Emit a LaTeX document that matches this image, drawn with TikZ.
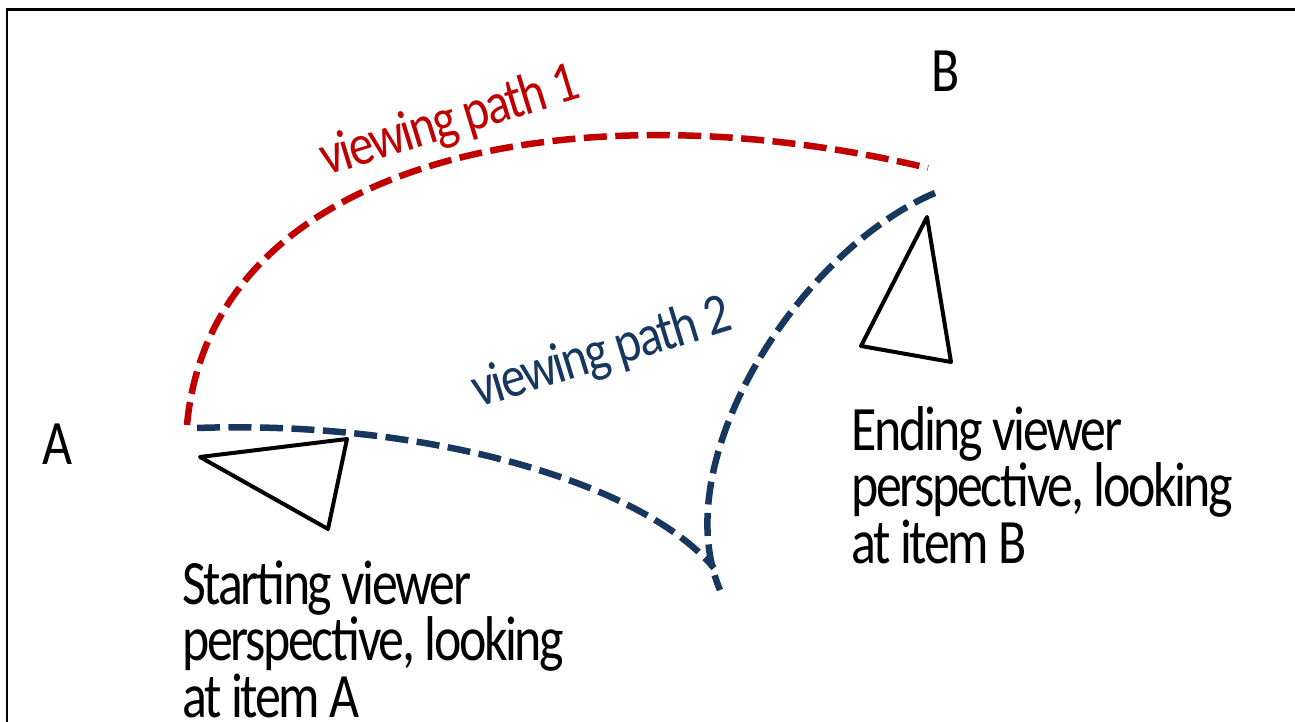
\documentclass[tikz,border=0pt]{standalone}
\usepackage{fontspec}
\setmainfont{Carlito}
\newfontfamily\calfont[LetterSpace=-4.5]{Carlito}
\usetikzlibrary{positioning}
\definecolor{pathred}{RGB}{192,0,0}
\definecolor{pathblue}{RGB}{23,55,94}

\begin{document}
\begin{tikzpicture}[x=0.02cm,y=-0.02cm,
	viewpath/.style={line width=0.13cm,dash pattern=on 0.46cm off 0.17cm},
	viewer/.style={draw,line width=0.08cm,line join=round},
	big label/.style={font=\calfont\fontsize{36}{30.7}\selectfont,
		inner sep=0pt,anchor=base west,align=left,xscale=0.82},
	path label/.style={font=\calfont\fontsize{33}{33}\selectfont,
		inner sep=0pt,anchor=base west,rotate=17,xscale=0.85}]
	
	\useasboundingbox (0,0) rectangle (1295,722);
	\draw[line width=0.06cm] (7,722) -- (7,10) -- (1295,10);
	
	% items and viewers
	\node[big label] (A) at (42,465) {A};
	\node[big label] (B) at (931,92) {B};
	\node[big label] (start) at (182,717) {Starting viewer\\perspective, looking\\at item A};
	\node[big label] (end) at (851,563) {Ending viewer\\perspective, looking\\at item B};
	
	\draw[viewer] (200,457) -- (347,439) -- (328,529) -- cycle;
	\draw[viewer] (927,217) -- (951,362) -- (861,346) -- cycle;
	
	% the two paths
	\coordinate (a1) at (187,425);
	\coordinate (b1) at (928,168);
	\coordinate (a2) at (197,428);
	\coordinate (m2) at (714,568);
	\coordinate (b2) at (935,193);
	\coordinate (e2) at (720,590);
	
	\draw[viewpath,pathred] (a1) .. controls (212,155) and (580,85) .. (b1);
	\draw[viewpath,pathblue] (a2) .. controls (420,420) and (640,480) .. (m2);
	\draw[viewpath,pathblue] (b2) .. controls (800,250) and (665,460) .. (e2);
	
	\node[path label,text=pathred] (path1) at (326,176) {viewing path 1};
	\node[path label,text=pathblue] (path2) at (478,408) {viewing path 2};
\end{tikzpicture}
\end{document}
